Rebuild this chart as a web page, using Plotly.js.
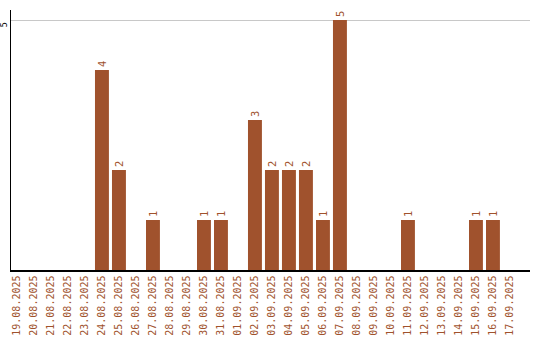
<!DOCTYPE html>
<html><head><meta charset="utf-8">
<script src="https://cdn.plot.ly/plotly-3.0.1.min.js"></script>
<style>html,body{margin:0;padding:0;background:#fff}</style>
</head><body><div id="c" style="width:540px;height:340px"></div>
<script>
const dates = ["19.08.2025","20.08.2025","21.08.2025","22.08.2025","23.08.2025","24.08.2025","25.08.2025","26.08.2025","27.08.2025","28.08.2025","29.08.2025","30.08.2025","31.08.2025","01.09.2025","02.09.2025","03.09.2025","04.09.2025","05.09.2025","06.09.2025","07.09.2025","08.09.2025","09.09.2025","10.09.2025","11.09.2025","12.09.2025","13.09.2025","14.09.2025","15.09.2025","16.09.2025","17.09.2025"];
const counts = [0,0,0,0,0,4,2,0,1,0,0,1,1,0,3,2,2,2,1,5,0,0,0,1,0,0,0,1,1,0];
const labels = counts.map(v => v > 0 ? String(v) : "");
const col = "#A0522D";
const fnt = "DejaVu Sans Mono";
Plotly.newPlot("c", [{
  type: "bar", x: dates, y: counts, text: labels,
  textposition: "outside", textangle: -90, cliponaxis: false,
  textfont: {family: fnt, size: 10.5, color: col},
  marker: {color: col}, hoverinfo: "none"
}], {
  width: 540, height: 340,
  margin: {l: 11, r: 10, t: 10, b: 70},
  paper_bgcolor: "#fff", plot_bgcolor: "#fff",
  bargap: 0.18, showlegend: false,
  xaxis: {type: "category", range: [-0.35, 30.18], tickangle: -90,
    tickfont: {family: fnt, size: 10, color: col},
    showline: true, linecolor: "#000", linewidth: 1.5, showgrid: false,
    ticks: "", zeroline: false, fixedrange: true},
  yaxis: {range: [0, 5.2], tickvals: [5], ticktext: ["5"], tickangle: -90,
    tickfont: {family: fnt, size: 8.5, color: "#000"},
    ticklabelshift: 6, ticklabelstandoff: -1,
    showline: true, linecolor: "#000", linewidth: 1.5,
    showgrid: true, gridcolor: "#c8c8c8", gridwidth: 1,
    zeroline: false, ticks: "", ticklen: 0, fixedrange: true}
}, {displayModeBar: false, staticPlot: true});
</script></body></html>
